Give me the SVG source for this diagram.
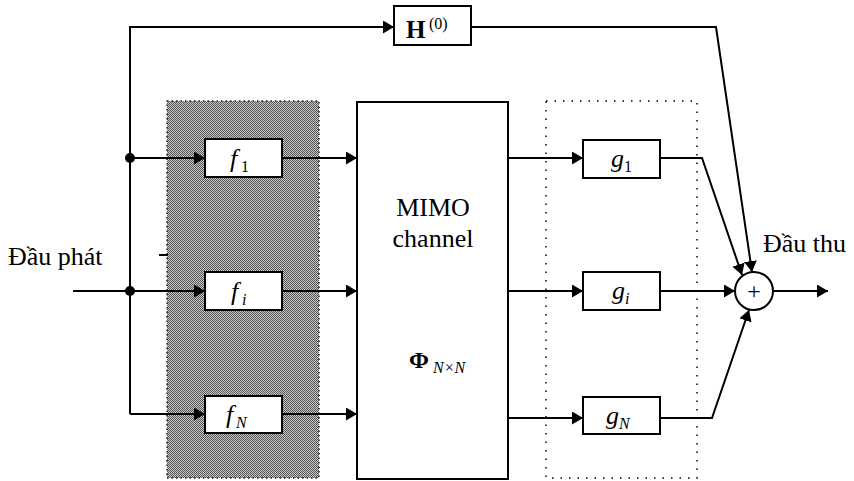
<svg xmlns="http://www.w3.org/2000/svg" width="854" height="481" viewBox="0 0 854 481">
<style>
  .ln{fill:none;stroke:#000;stroke-width:2}
  .bx{fill:#fff;stroke:#000;stroke-width:2}
  text{font-family:'Liberation Serif','Times New Roman',serif;fill:#000}
  .it{font-style:italic}
</style>
<defs>
  <marker id="ah" markerUnits="userSpaceOnUse" markerWidth="12" markerHeight="13" refX="11" refY="6.5" orient="auto">
    <path d="M0,0 L11,6.5 L0,13 z" fill="#000"/>
  </marker>
  <pattern id="chk" width="2" height="2" patternUnits="userSpaceOnUse">
    <rect width="2" height="2" fill="#c8c8c8"/>
    <rect width="1" height="1" fill="#555"/>
    <rect x="1" y="1" width="1" height="1" fill="#555"/>
  </pattern>
</defs>
<rect width="854" height="481" fill="#fff"/>

<g id="shade">
  <rect x="167" y="101" width="152" height="377" fill="url(#chk)" stroke="#222" stroke-width="1.5" stroke-dasharray="1.5 3"/>
</g>
<g id="dotted-group">
  <rect x="546" y="101" width="151" height="377" fill="none" stroke="#000" stroke-width="1.5" stroke-dasharray="1.5 7"/>
</g>

<g id="connectors">
  <path class="ln" d="M130,414 L130,27 L394,27" marker-end="url(#ah)"/>
  <path class="ln" d="M130,158 L205,158" marker-end="url(#ah)"/>
  <path class="ln" d="M73,291 L205,291" marker-end="url(#ah)"/>
  <path class="ln" d="M130,414 L205,414" marker-end="url(#ah)"/>
  <path class="ln" d="M159,255 L168,255" stroke-width="1"/>
  <path class="ln" d="M282,158 L357,158" marker-end="url(#ah)"/>
  <path class="ln" d="M282,291 L357,291" marker-end="url(#ah)"/>
  <path class="ln" d="M282,414 L357,414" marker-end="url(#ah)"/>
  <path class="ln" d="M508,158 L583,158" marker-end="url(#ah)"/>
  <path class="ln" d="M508,291 L583,291" marker-end="url(#ah)"/>
  <path class="ln" d="M508,418 L583,418" marker-end="url(#ah)"/>
  <path class="ln" d="M471,27 L716,27 L752,272" marker-end="url(#ah)"/>
  <path class="ln" d="M660,158 L702,158 L742,275" marker-end="url(#ah)"/>
  <path class="ln" d="M660,291 L735,291" marker-end="url(#ah)"/>
  <path class="ln" d="M660,418 L712,418 L749,310" marker-end="url(#ah)"/>
  <path class="ln" d="M773,291 L828,291" marker-end="url(#ah)"/>
  <circle cx="130" cy="158" r="5" fill="#000"/>
  <circle cx="130" cy="291" r="5" fill="#000"/>
</g>

<g id="H0">
  <rect class="bx" x="394" y="6" width="77" height="39"/>
  <text x="406" y="38" font-size="25" font-weight="bold" font-family="Liberation Serif, serif">H</text>
  <text x="429" y="29" font-size="16" font-family="Liberation Serif, serif">(0)</text>
</g>

<g id="f1">
  <rect class="bx" x="205" y="139" width="77" height="38"/>
  <text class="it" x="230" y="167" font-size="26" font-family="Liberation Serif, serif">f</text>
  <text x="241" y="172" font-size="16" font-family="Liberation Serif, serif">1</text>
</g>
<g id="fi">
  <rect class="bx" x="205" y="272" width="77" height="38"/>
  <text class="it" x="231" y="300" font-size="26" font-family="Liberation Serif, serif">f</text>
  <text class="it" x="242" y="305" font-size="16" font-family="Liberation Serif, serif">i</text>
</g>
<g id="fN">
  <rect class="bx" x="205" y="396" width="77" height="37"/>
  <text class="it" x="226" y="423" font-size="26" font-family="Liberation Serif, serif">f</text>
  <text class="it" x="236" y="428" font-size="16" font-family="Liberation Serif, serif">N</text>
</g>

<g id="mimo">
  <rect class="bx" x="357" y="102" width="151" height="377"/>
  <text x="433" y="216" font-size="26" text-anchor="middle" font-family="Liberation Serif, serif">MIMO</text>
  <text x="433" y="247" font-size="26" text-anchor="middle" font-family="Liberation Serif, serif">channel</text>
  <text x="409" y="368" font-size="24" font-weight="bold" font-family="Liberation Serif, serif">Φ</text>
  <text class="it" x="433" y="373" font-size="16" font-family="Liberation Serif, serif">N×N</text>
</g>

<g id="g1">
  <rect class="bx" x="583" y="140" width="77" height="38"/>
  <text class="it" x="611" y="167" font-size="26" font-family="Liberation Serif, serif">g</text>
  <text x="624" y="172" font-size="16" font-family="Liberation Serif, serif">1</text>
</g>
<g id="gi">
  <rect class="bx" x="583" y="272" width="77" height="38"/>
  <text class="it" x="612" y="299" font-size="26" font-family="Liberation Serif, serif">g</text>
  <text class="it" x="625" y="304" font-size="16" font-family="Liberation Serif, serif">i</text>
</g>
<g id="gN">
  <rect class="bx" x="583" y="397" width="77" height="37"/>
  <text class="it" x="606" y="424" font-size="26" font-family="Liberation Serif, serif">g</text>
  <text class="it" x="619" y="429" font-size="16" font-family="Liberation Serif, serif">N</text>
</g>

<g id="sum">
  <circle cx="754" cy="291" r="19" fill="#fff" stroke="#000" stroke-width="2"/>
  <text x="754" y="299" font-size="24" text-anchor="middle" font-family="Liberation Serif, serif">+</text>
</g>

<g id="labels">
  <text x="8" y="265" font-size="26" font-family="Liberation Serif, serif">Đầu phát</text>
  <text x="763" y="252" font-size="26" font-family="Liberation Serif, serif">Đầu thu</text>
</g>
</svg>
